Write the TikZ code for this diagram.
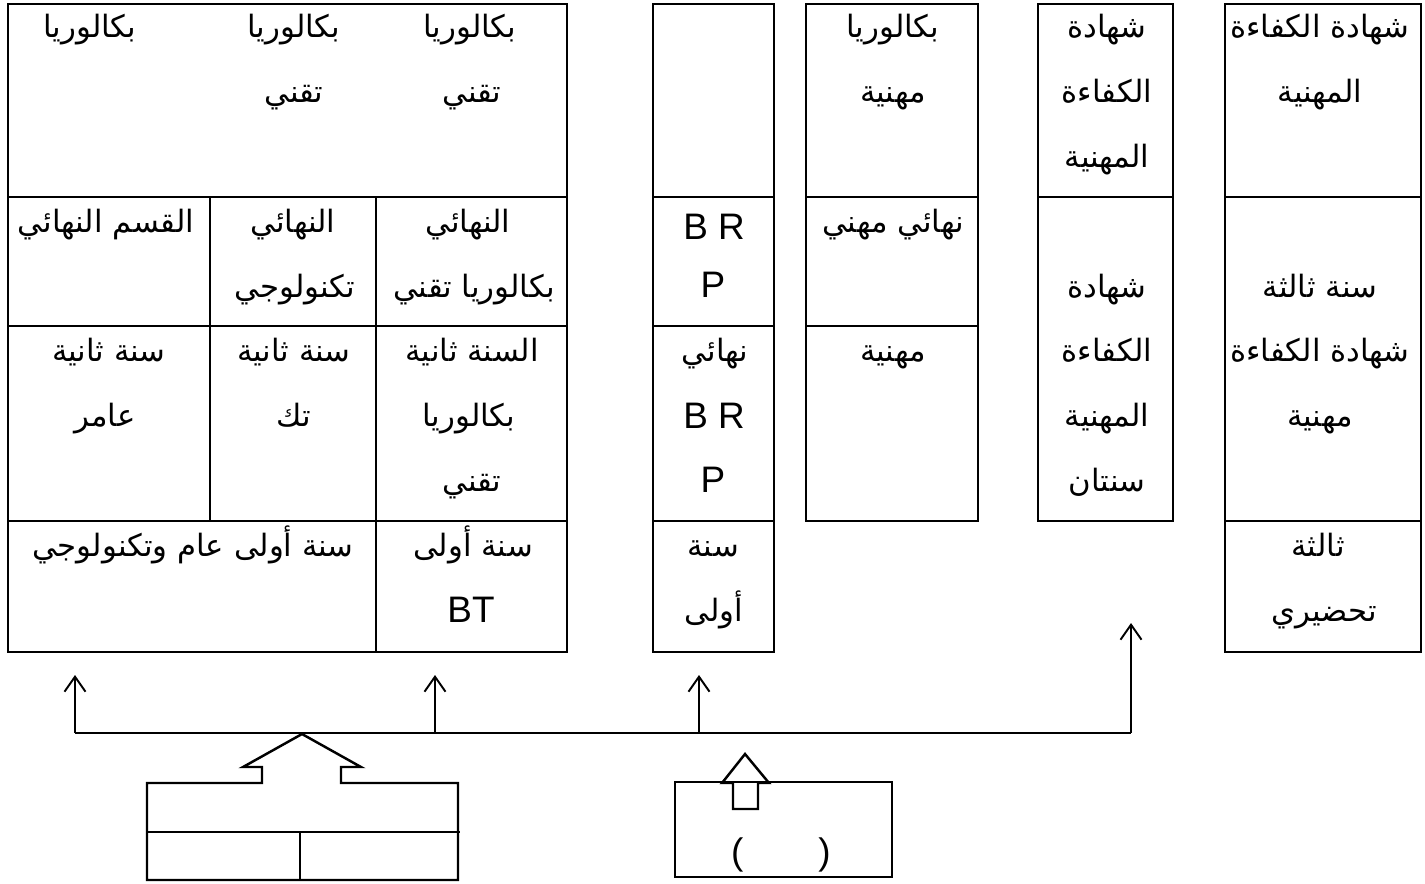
\documentclass[tikz,border=0pt]{standalone}
\usepackage{fontspec}
\setmainfont{Liberation Sans}
\newfontfamily\arabicfont[Script=Arabic]{DejaVu Sans}
\TeXXeTstate=1
\usetikzlibrary{arrows.meta}
\newcommand{\ar}[1]{{\arabicfont\beginR #1\endR}}
\tikzset{
	rule/.style={line width=1.4pt},
	txt/.style={anchor=base, inner sep=0pt, font=\fontsize{17.5}{20}\selectfont},
	latin/.style={txt, font=\fontsize{21}{24}\selectfont},
	feed/.style={line width=1.1pt, -{Straight Barb[length=3mm,width=4.2mm]}}
}

\begin{document}
\begin{tikzpicture}[x=0.02cm, y=-0.02cm]
			%%%%% START %%%%%
			\useasboundingbox (0,0) rectangle (1425,883);
			
			% left table
			\draw[rule] (8,4) rectangle (567,652);
			\draw[rule] (8,197) -- (567,197);
			\draw[rule] (8,326) -- (567,326);
			\draw[rule] (8,521) -- (567,521);
			\draw[rule] (210,197) -- (210,521);
			\draw[rule] (376,197) -- (376,652);
			
			\node[txt] (bacG) at (90,37) {\ar{بكالوريا}};
			\node[txt] (bacT) at (294,37) {\ar{بكالوريا}};
			\node[txt] (bacTb) at (294,102) {\ar{تقني}};
			\node[txt] (bacB) at (470,37) {\ar{بكالوريا}};
			\node[txt] (bacBb) at (472,102) {\ar{تقني}};
			
			\node[txt] (finG) at (106,232) {\ar{القسم النهائي}};
			\node[txt] (finT) at (293,232) {\ar{النهائي}};
			\node[txt] (finTb) at (295,297) {\ar{تكنولوجي}};
			\node[txt] (finB) at (468,232) {\ar{النهائي}};
			\node[txt] (finBb) at (474,297) {\ar{بكالوريا تقني}};
			
			\node[txt] (secG) at (109,361) {\ar{سنة ثانية}};
			\node[txt] (secGb) at (105,426) {\ar{عامر}};
			\node[txt] (secT) at (294,361) {\ar{سنة ثانية}};
			\node[txt] (secTb) at (294,426) {\ar{تك}};
			\node[txt] (secB) at (472,361) {\ar{السنة ثانية}};
			\node[txt] (secBb) at (469,426) {\ar{بكالوريا}};
			\node[txt] (secBc) at (472,491) {\ar{تقني}};
			
			\node[txt] (oneG) at (193,556) {\ar{سنة أولى عام وتكنولوجي}};
			\node[txt] (oneB) at (473,556) {\ar{سنة أولى}};
			\node[latin] (oneBb) at (471,622) {BT};
			
			% BRP column
			\draw[rule] (653,4) rectangle (774,652);
			\draw[rule] (653,197) -- (774,197);
			\draw[rule] (653,326) -- (774,326);
			\draw[rule] (653,521) -- (774,521);
			
			\node[latin] (brpA) at (714,239) {B R};
			\node[latin] (brpAb) at (713,297) {P};
			\node[txt] (brpB) at (715,361) {\ar{نهائي}};
			\node[latin] (brpBb) at (714,428) {B R};
			\node[latin] (brpBc) at (713,492) {P};
			\node[txt] (brpC) at (713,556) {\ar{سنة}};
			\node[txt] (brpCb) at (714,621) {\ar{أولى}};
			
			% vocational bac column
			\draw[rule] (806,4) rectangle (978,521);
			\draw[rule] (806,197) -- (978,197);
			\draw[rule] (806,326) -- (978,326);
			
			\node[txt] (bpA) at (893,37) {\ar{بكالوريا}};
			\node[txt] (bpAb) at (893,102) {\ar{مهنية}};
			\node[txt] (bpB) at (893,232) {\ar{نهائي مهني}};
			\node[txt] (bpC) at (893,361) {\ar{مهنية}};
			
			% two-year certificate column
			\draw[rule] (1038,4) rectangle (1173,521);
			\draw[rule] (1038,197) -- (1173,197);
			
			\node[txt] (capA) at (1107,37) {\ar{شهادة}};
			\node[txt] (capAb) at (1107,102) {\ar{الكفاءة}};
			\node[txt] (capAc) at (1107,167) {\ar{المهنية}};
			\node[txt] (capB) at (1107,297) {\ar{شهادة}};
			\node[txt] (capBb) at (1107,361) {\ar{الكفاءة}};
			\node[txt] (capBc) at (1107,426) {\ar{المهنية}};
			\node[txt] (capBd) at (1107,491) {\ar{سنتان}};
			
			% three-year certificate column
			\draw[rule] (1225,4) rectangle (1421,652);
			\draw[rule] (1225,197) -- (1421,197);
			\draw[rule] (1225,521) -- (1421,521);
			
			\node[txt] (cptA) at (1320,37) {\ar{شهادة الكفاءة}};
			\node[txt] (cptAb) at (1320,102) {\ar{المهنية}};
			\node[txt] (cptB) at (1320,297) {\ar{سنة ثالثة}};
			\node[txt] (cptBb) at (1320,361) {\ar{شهادة الكفاءة}};
			\node[txt] (cptBc) at (1320,426) {\ar{مهنية}};
			\node[txt] (cptC) at (1318,556) {\ar{ثالثة}};
			\node[txt] (cptCb) at (1324,621) {\ar{تحضيري}};
			
			% distribution line
			\coordinate (busA) at (75,733);
			\coordinate (busB) at (435,733);
			\coordinate (busC) at (699,733);
			\coordinate (busD) at (1131,733);
			\coordinate (tipA) at (75,675);
			\coordinate (tipB) at (435,675);
			\coordinate (tipC) at (699,675);
			\coordinate (tipD) at (1131,623);
			\draw[line width=1.1pt] (busA) -- (busD);
			\draw[feed] (busA) -- (tipA);
			\draw[feed] (busB) -- (tipB);
			\draw[feed] (busC) -- (tipC);
			\draw[feed] (busD) -- (tipD);
			
			% lower left box with block arrow
			\draw[rule] (147,783) -- (262,783) -- (262,767) -- (243,767) -- (302,734) -- (361,767) -- (341,767) -- (341,783) -- (458,783) -- (458,880) -- (147,880) -- cycle;
			\draw[rule] (147,832) -- (460,832);
			\draw[rule] (300,832) -- (300,880);
			
			% lower right box with block arrow
			\draw[rule] (675,782) rectangle (892,877);
			\draw[rule] (733,809) -- (733,783) -- (722,783) -- (745,754) -- (769,783) -- (758,783) -- (758,809) -- cycle;
			\node[latin] (paren) at (781,864) {(\hspace{1.5cm})};
			
			%%%%% END %%%%%
\end{tikzpicture}
\end{document}
